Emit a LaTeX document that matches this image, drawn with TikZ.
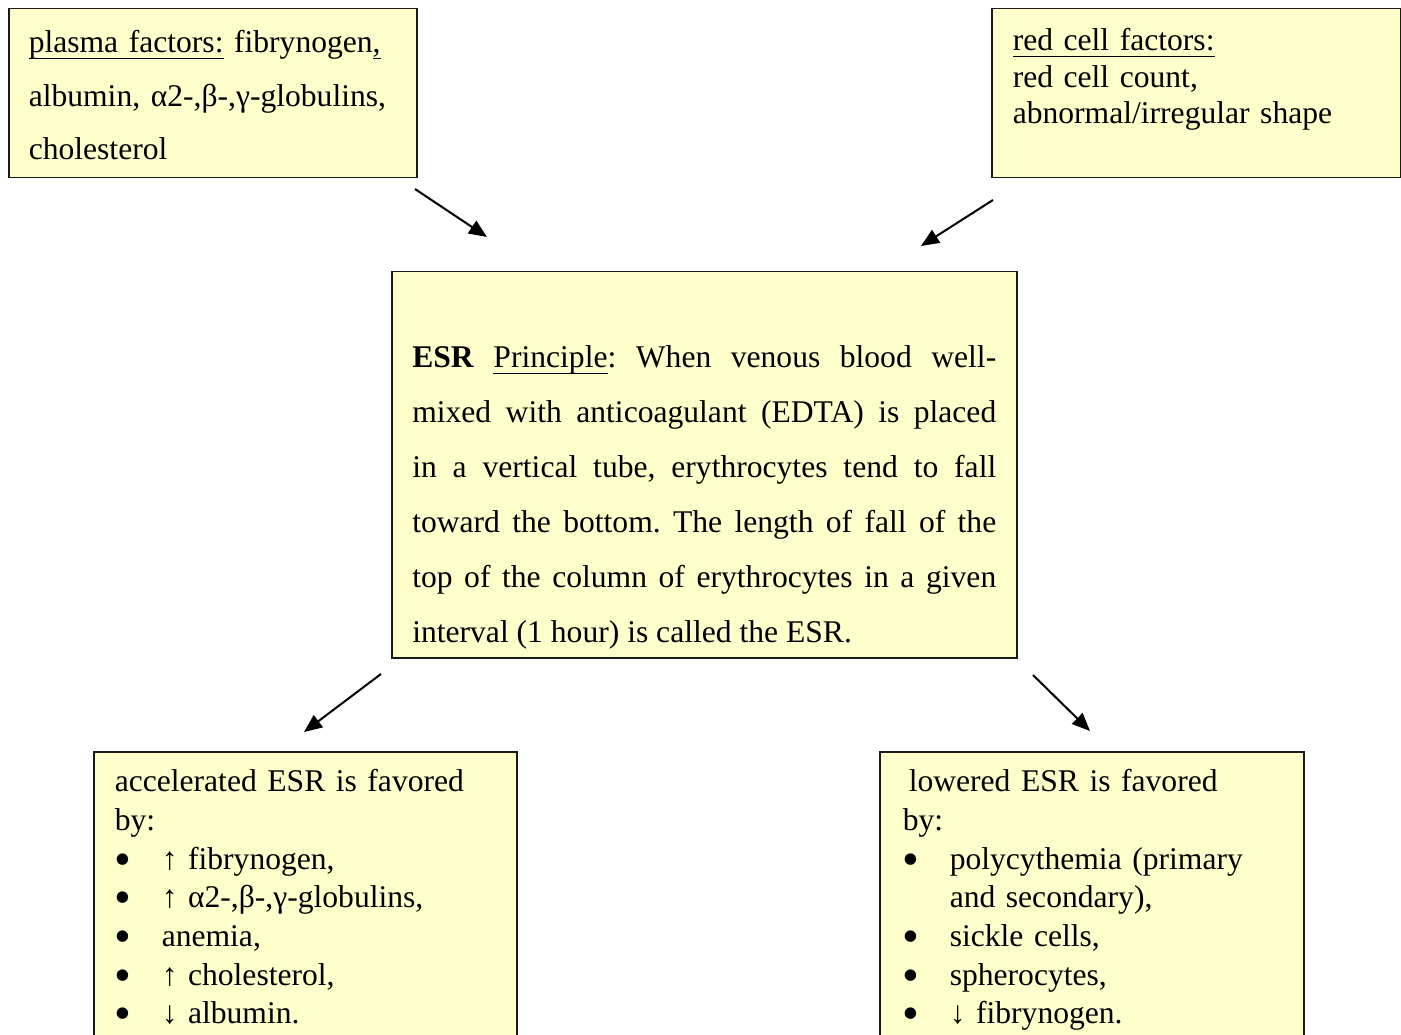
\documentclass[tikz,border=0pt]{standalone}
\usepackage{fontspec}
\setmainfont{Liberation Serif}
\usepackage{tikz}
\usetikzlibrary{arrows.meta}
\definecolor{ESRFill}{RGB}{255,255,204}
\definecolor{ESRLine}{RGB}{25,25,25}
\frenchspacing
\newcommand\ulin[1]{\setbox0\hbox{#1}\rlap{\rule[-6.5pt]{\wd0}{1.6pt}}\box0\relax}
\newcommand\bul{\makebox[47pt][l]{\smash{\raisebox{-6pt}{\fontsize{48}{0}\selectfont •}}}}

\begin{document}
\begin{tikzpicture}[
    x=1pt,y=-1pt,
    box/.style={draw=ESRLine, fill=ESRFill, line width=1.5pt, anchor=north west, inner ysep=0pt, align=left},
    txt/.style={font=\fontsize{31.6}{#1}\selectfont},
    arrow/.style={-{Triangle[length=18pt,width=15pt]}, line width=2pt, draw=black}
  ]
    \useasboundingbox (0,0) rectangle (1401,1035);
    % factor boxes
    \node[box, txt=53.5, inner xsep=20pt, text width=368pt, text height=44pt, text depth=125pt] (plasma) at (8,8)
      {\ulin{plasma factors:} fibrynogen\ulin{,}\\albumin, α2-,β-,γ-globulins,\\cholesterol};
    \node[box, txt=36.5, inner xsep=21pt, text width=367pt, text height=42pt, text depth=127pt] (redcell) at (991,8)
      {\ulin{red cell factors:}\\red cell count,\\abnormal/irregular shape};
    % principle
    \node[box, txt=55, align=justify, inner xsep=20.5pt, text width=584pt, text height=96pt, text depth=290pt] (esr) at (391,271)
      {\hyphenpenalty=10000 \textbf{ESR} \ulin{Principle}: When venous blood well-\linebreak mixed with anticoagulant (EDTA) is placed\linebreak in a vertical tube, erythrocytes tend to fall\linebreak toward the bottom. The length of fall of the\linebreak top of the column of erythrocytes in a given\linebreak interval (1 hour) is called the ESR.};
    % outcome boxes
    \node[box, txt=38.7, inner xsep=21pt, text width=381pt, text height=40pt, text depth=285pt] (accel) at (93,751)
      {accelerated ESR is favored\\by:\\\bul{}↑ fibrynogen,\\\bul{}↑ α2-,β-,γ-globulins,\\\bul{}anemia,\\\bul{}↑ cholesterol,\\\bul{}↓ albumin.};
    \node[box, txt=38.7, inner xsep=23pt, text width=378pt, text height=40pt, text depth=285pt] (lower) at (879,751)
      {\hspace*{6pt}lowered ESR is favored\\by:\\\bul{}polycythemia (primary\\\hspace*{47pt}and secondary),\\\bul{}sickle cells,\\\bul{}spherocytes,\\\bul{}↓ fibrynogen.};
    % arrows
    \coordinate (pa) at (415,189);  \coordinate (pb) at (487,237);
    \coordinate (ra) at (993,200);  \coordinate (rb) at (921,246);
    \coordinate (aa) at (381,674);  \coordinate (ab) at (304,732);
    \coordinate (la) at (1033,675); \coordinate (lb) at (1090,731);
    \foreach \a/\b in {pa/pb,ra/rb,aa/ab,la/lb} {\draw[arrow] (\a) -- (\b);}
\end{tikzpicture}
\end{document}
